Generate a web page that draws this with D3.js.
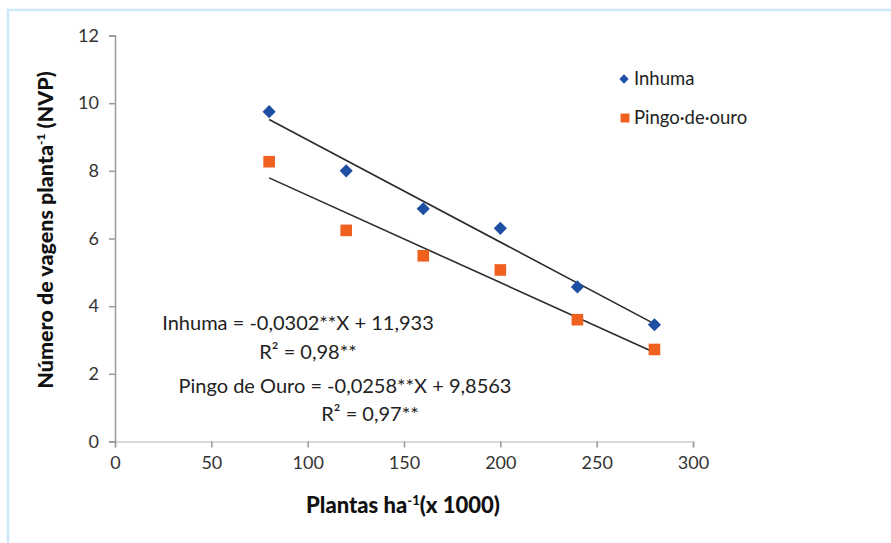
<!DOCTYPE html>
<html><head><meta charset="utf-8">
<script src="https://cdn.jsdelivr.net/npm/d3@7"></script>
<style>body{margin:0;background:#fff}svg{display:block}</style>
</head><body>
<svg id="c" width="891" height="543"></svg>
<script>
const xValues = [80, 120, 160, 200, 240, 280];
const inhuma = [9.75, 8.0, 6.88, 6.3, 4.57, 3.45];
const pingo = [8.27, 6.24, 5.49, 5.07, 3.6, 2.72];
const trendInhuma = {slope: -0.0302, intercept: 11.933};
const trendPingo = {slope: -0.0258, intercept: 9.8563};
const xTicks = [0, 50, 100, 150, 200, 250, 300];
const yTicks = [0, 2, 4, 6, 8, 10, 12];
const seriesNames = ["Inhuma", "Pingo·de·ouro"];
const colors = ["#1f4fa3", "#f0601f"];

const svg = d3.select("#c");
const font = "Lato, 'Open Sans', sans-serif";
svg.append("rect").attr("x", 8).attr("y", 10).attr("width", 900).attr("height", 560)
  .attr("fill", "none").attr("stroke", "#cbe9fb").attr("stroke-width", 2.5);

const x = d3.scaleLinear().domain([0, 300]).range([115, 693]);
const y = d3.scaleLinear().domain([0, 12]).range([441.5, 35.5]);

// x axis
const gx = svg.append("g").attr("transform", `translate(0,${y(0)})`)
  .call(d3.axisBottom(x).tickValues(xTicks).tickSize(6).tickPadding(9));
gx.select(".domain").attr("stroke", "#d9d9d9").attr("stroke-width", 2);
gx.selectAll(".tick line").attr("stroke", "#999").attr("stroke-width", 1.5);
gx.selectAll("text").attr("font-family", font).attr("font-size", 18).attr("fill", "#333");

// y axis
const gy = svg.append("g").attr("transform", `translate(${x(0)},0)`)
  .call(d3.axisLeft(y).tickValues(yTicks).tickSize(6).tickPadding(10));
gy.select(".domain").attr("stroke", "#999").attr("stroke-width", 1.5);
gy.selectAll(".tick line").attr("stroke", "#999").attr("stroke-width", 1.5);
gy.selectAll("text").attr("font-family", font).attr("font-size", 18).attr("fill", "#333");

// trend lines
const line = d3.line().x(d => x(d[0])).y(d => y(d[1]));
[trendInhuma, trendPingo].forEach(t => {
  const pts = [xValues[0], xValues[xValues.length - 1]].map(v => [v, t.slope * v + t.intercept]);
  svg.append("path").attr("d", line(pts)).attr("stroke", "#2b2b2b").attr("stroke-width", 1.6).attr("fill", "none");
});

// points
const diamond = d3.symbol().type(d3.symbolDiamond2).size(110);
const square = d3.symbol().type(d3.symbolSquare).size(135);
svg.append("g").selectAll("path").data(xValues.map((v, i) => [v, inhuma[i]])).join("path")
  .attr("d", diamond).attr("transform", d => `translate(${x(d[0])},${y(d[1])})`).attr("fill", colors[0]);
svg.append("g").selectAll("path").data(xValues.map((v, i) => [v, pingo[i]])).join("path")
  .attr("d", square).attr("transform", d => `translate(${x(d[0])},${y(d[1])})`).attr("fill", colors[1]);

// legend
const lg = svg.append("g");
lg.append("path").attr("d", d3.symbol().type(d3.symbolDiamond2).size(55)).attr("transform", "translate(624,79)").attr("fill", colors[0]);
lg.append("path").attr("d", d3.symbol().type(d3.symbolSquare).size(80)).attr("transform", "translate(625,118)").attr("fill", colors[1]);
lg.append("text").attr("x", 634).attr("y", 85).text(seriesNames[0]);
lg.append("text").attr("x", 634).attr("y", 124).text(seriesNames[1]);
lg.selectAll("text").attr("font-family", font).attr("font-size", 18.5).attr("fill", "#222");

// equations
const eq = svg.append("g").attr("font-family", font).attr("font-size", 20).attr("fill", "#222").attr("text-anchor", "middle");
eq.append("text").attr("x", 298).attr("y", 330).text("Inhuma = -0,0302**X + 11,933");
eq.append("text").attr("x", 308).attr("y", 359).text("R² = 0,98**");
eq.append("text").attr("x", 345).attr("y", 393).text("Pingo de Ouro = -0,0258**X + 9,8563");
eq.append("text").attr("x", 370).attr("y", 421).text("R² = 0,97**");

// axis titles
svg.append("text").attr("transform", "translate(53,230) rotate(-90)").attr("text-anchor", "middle")
  .attr("font-family", font).attr("font-weight", "900").attr("font-size", 21.5).attr("fill", "#111")
  .html('Número de vagens planta<tspan dy="-8" font-size="12">-1</tspan><tspan dy="8"> (NVP)</tspan>');
svg.append("text").attr("x", 403).attr("y", 513).attr("text-anchor", "middle")
  .attr("font-family", font).attr("font-weight", "900").attr("font-size", 22).attr("fill", "#111")
  .html('Plantas ha<tspan dy="-8" font-size="13">-1</tspan><tspan dy="8">(x 1000)</tspan>');
</script>
</body></html>
